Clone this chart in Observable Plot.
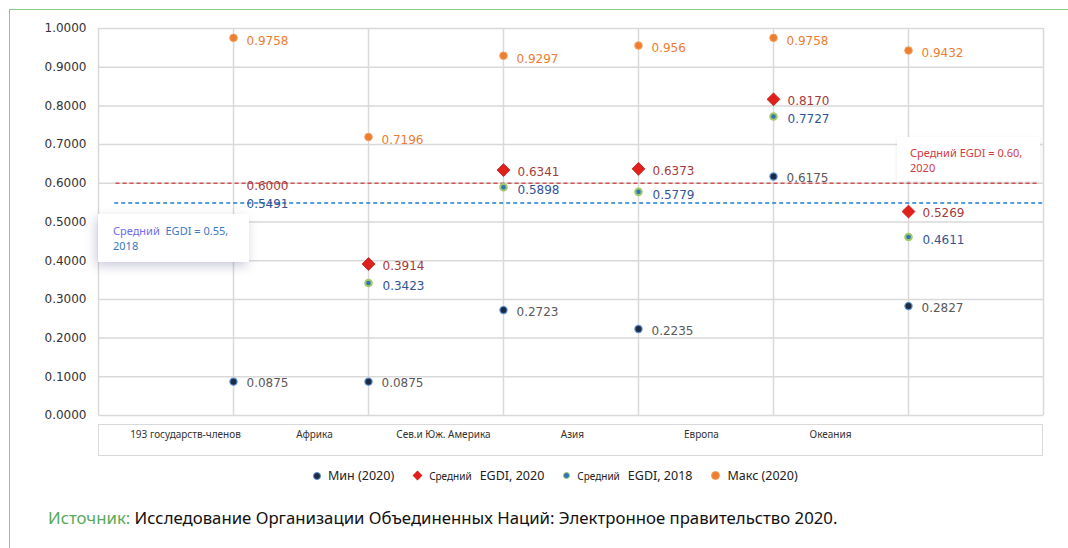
<!DOCTYPE html>
<html><head><meta charset="utf-8">
<script src="https://cdn.jsdelivr.net/npm/d3@7"></script>
<script src="https://cdn.jsdelivr.net/npm/@observablehq/plot@0.6"></script>
<style>
html,body{margin:0;padding:0;background:#fff;}
#wrap{position:relative;width:1068px;height:548px;overflow:hidden;background:#fff;}
.gtop{position:absolute;left:9px;top:9px;width:1070px;height:0;border-top:1.5px solid #8ccb8c;}
.gleft{position:absolute;left:9px;top:9px;width:0;height:560px;border-left:1.5px solid #8ccb8c;}
#chart{position:absolute;left:0;top:0;}
#catbox{position:absolute;left:98px;top:424px;width:943px;height:30px;border:1.5px solid #d9d9d9;}
.call{position:absolute;background:#fff;font-family:"Noto Sans",sans-serif;font-size:11px;line-height:15px;}
#cb{left:98px;top:214px;width:151px;height:48px;box-shadow:-2px 4px 10px rgba(70,70,130,0.28);}
#cb .t{position:absolute;left:15px;top:9px;color:#3b78c2;}
#cb .v{color:#6c6cf0;}
#cr{left:897px;top:137px;width:143px;height:44px;box-shadow:0 1px 4px rgba(0,0,0,0.08);}
#cr .t{position:absolute;left:13px;top:8px;color:#d23a3f;}
#legend{position:absolute;left:313px;top:467px;display:flex;align-items:center;gap:19px;font-family:"Noto Sans",sans-serif;color:#222;white-space:nowrap;}
.it{display:flex;align-items:center;}
.mk{display:inline-block;margin-right:7px;}
.dmin{width:6px;height:6px;border-radius:50%;background:#1c2a44;border:1px solid #5b8fd1;}
.d18{width:5px;height:5px;border-radius:50%;background:#2e75b6;border:1.5px solid #a3c86a;}
.dmax{width:7px;height:7px;border-radius:50%;background:#ed7d31;border:1px solid #f5a05a;}
.dia{width:7px;height:7px;background:#e0201b;transform:rotate(45deg);margin-left:1px;margin-right:8px;}
.sm{font-size:10px;margin-right:8px;}
.bg{font-size:12.5px;}
#caption{position:absolute;left:48px;top:507px;font-family:"Noto Sans",sans-serif;font-size:16.75px;line-height:22px;color:#111;white-space:nowrap;}
#caption .src{color:#5aa95a;}
</style>
</head>
<body>
<div id="wrap">
  <div class="gtop"></div>
  <div class="gleft"></div>
  <div id="chart"></div>
  <div id="catbox"></div>
  <div class="call" id="cb"><div class="t"><span class="v">Средний</span>&nbsp; EGDI = 0.55,<br>2018</div></div>
  <div class="call" id="cr"><div class="t">Средний EGDI = 0.60,<br>2020</div></div>
  <div id="legend">
    <span class="it"><i class="mk dmin"></i><span class="bg">Мин (2020)</span></span>
    <span class="it"><i class="mk dia"></i><span class="sm">Средний</span><span class="bg">EGDI, 2020</span></span>
    <span class="it"><i class="mk d18"></i><span class="sm">Средний</span><span class="bg">EGDI, 2018</span></span>
    <span class="it"><i class="mk dmax"></i><span class="bg">Макс (2020)</span></span>
  </div>
  <div id="caption"><span class="src">Источник:</span> Исследование Организации Объединенных Наций: Электронное правительство 2020.</div>
</div>
<script>
const categories = ["193 государств-членов", "Африка", "Сев.и Юж. Америка", "Азия", "Европа", "Океания"];
const min2020  = [0.0875, 0.0875, 0.2723, 0.2235, 0.6175, 0.2827];
const mean2020 = [0.6000, 0.3914, 0.6341, 0.6373, 0.8170, 0.5269];
const mean2018 = [0.5491, 0.3423, 0.5898, 0.5779, 0.7727, 0.4611];
const max2020  = [0.9758, 0.7196, 0.9297, 0.956, 0.9758, 0.9432];
const maxLabels = ["0.9758", "0.7196", "0.9297", "0.956", "0.9758", "0.9432"];
const yTicks = [0, 0.1, 0.2, 0.3, 0.4, 0.5, 0.6, 0.7, 0.8, 0.9, 1.0];

const rows = categories.map((c, i) => ({
  cat: c, i: i + 1,
  min: min2020[i], m20: mean2020[i], m18: mean2018[i], max: max2020[i], maxLab: maxLabels[i]
}));
const regions = rows.slice(1);
const world = rows.slice(0, 1);
const fmt = v => v.toFixed(4);
const F = "DejaVu Sans";

const chart = Plot.plot({
  width: 1068, height: 460,
  marginLeft: 98, marginRight: 25, marginTop: 28, marginBottom: 45,
  x: {domain: [0, 7], axis: null},
  y: {domain: [0, 1], axis: null},
  style: {background: "transparent", fontFamily: F, fontSize: "12px"},
  marks: [
    Plot.ruleY(yTicks, {stroke: "#d9d9d9", strokeWidth: 1.5}),
    Plot.ruleX(d3.range(0, 8), {y1: 0, y2: 1, stroke: "#d9d9d9", strokeWidth: 1.5}),
    Plot.axisY(yTicks, {tickFormat: fmt, tickSize: 0, tickPadding: 12, fontSize: 12, color: "#333", fontFamily: F}),
    Plot.ruleY([mean2020[0]], {x1: 0.13, x2: 6.96, stroke: "#cc5555", strokeWidth: 1.5, strokeDasharray: "4,3"}),
    Plot.ruleY([mean2018[0]], {x1: 0.12, x2: 7, stroke: "#1f7fd0", strokeWidth: 1.5, strokeDasharray: "4,3"}),
    Plot.text(world, {x: "i", y: "m20", text: d => fmt(d.m20), dx: 13, dy: 3, textAnchor: "start", fill: "#a33b3b", fontSize: 12}),
    Plot.text(world, {x: "i", y: "m18", text: d => fmt(d.m18), dx: 13, dy: 1, textAnchor: "start", fill: "#2f5597", fontSize: 12}),
    Plot.dot(rows, {x: "i", y: "min", r: 3.6, fill: "#1c2a44", stroke: "#5b8fd1", strokeWidth: 1.2}),
    Plot.dot(rows, {x: "i", y: "max", r: 3.8, fill: "#ed7d31", stroke: "#f5a05a", strokeWidth: 1}),
    Plot.dot(regions, {x: "i", y: "m18", r: 3.3, fill: "#2e75b6", stroke: "#a3c86a", strokeWidth: 2}),
    Plot.dot(regions, {x: "i", y: "m20", symbol: "diamond2", r: 5.8, fill: "#e0201b", stroke: "#c0171a", strokeWidth: 0.8}),
    Plot.text(rows, {x: "i", y: "min", text: d => fmt(d.min), dx: 13, dy: 2, textAnchor: "start", fill: "#595959", fontSize: 12}),
    Plot.text(rows, {x: "i", y: "max", text: "maxLab", dx: 13, dy: 3, textAnchor: "start", fill: "#ed7d31", fontSize: 12}),
    Plot.text(regions, {x: "i", y: "m18", text: d => fmt(d.m18), dx: 14, dy: 3, textAnchor: "start", fill: "#2f5597", fontSize: 12}),
    Plot.text(regions, {x: "i", y: "m20", text: d => fmt(d.m20), dx: 14, dy: 2, textAnchor: "start", fill: "#a33b3b", fontSize: 12}),
    Plot.text(rows, {x: (d, i) => 0.644 + 0.9556 * i, y: 0, dy: 19, text: "cat", fill: "#333", fontSize: 10, fontFamily: "Noto Sans"})
  ]
});
document.getElementById("chart").appendChild(chart);
</script>
</body></html>
